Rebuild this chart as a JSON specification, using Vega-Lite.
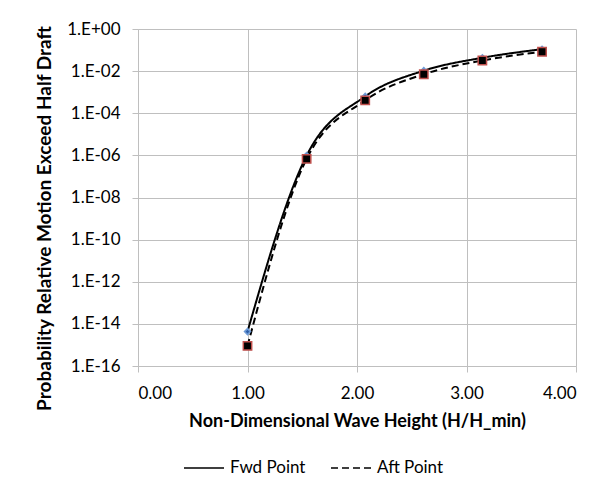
{
  "$schema": "https://vega.github.io/schema/vega-lite/v6.json",
  "width": 438,
  "height": 337,
  "autosize": "none",
  "padding": {"left": 138, "top": 29, "right": 32, "bottom": 127},
  "background": "white",
  "config": {
    "font": "Lato",
    "view": {"stroke": null},
    "axis": {
      "labelFont": "Lato",
      "labelFontSize": 17,
      "labelColor": "#000000",
      "titleFont": "Lato",
      "titleFontSize": 18,
      "titleFontWeight": "bold",
      "titleColor": "#000000",
      "gridColor": "#BFBFBF",
      "gridWidth": 1,
      "domainColor": "#BFBFBF",
      "domainWidth": 1,
      "tickColor": "#BFBFBF",
      "tickSize": 6
    }
  },
  "data": {
    "values": [
      {"h": 1.0, "p": 4.3e-15, "series": "Fwd Point"},
      {"h": 1.54, "p": 9.8e-7, "series": "Fwd Point"},
      {"h": 2.075, "p": 6.3e-4, "series": "Fwd Point"},
      {"h": 2.61, "p": 1.05e-2, "series": "Fwd Point"},
      {"h": 3.145, "p": 4.3e-2, "series": "Fwd Point"},
      {"h": 3.69, "p": 0.11, "series": "Fwd Point"},
      {"h": 1.0, "p": 9e-16, "series": "Aft Point"},
      {"h": 1.54, "p": 6.8e-7, "series": "Aft Point"},
      {"h": 2.075, "p": 4.1e-4, "series": "Aft Point"},
      {"h": 2.61, "p": 7.1e-3, "series": "Aft Point"},
      {"h": 3.145, "p": 3.2e-2, "series": "Aft Point"},
      {"h": 3.69, "p": 8.3e-2, "series": "Aft Point"}
    ]
  },
  "encoding": {
    "x": {
      "field": "h",
      "type": "quantitative",
      "scale": {"domain": [0, 4], "nice": false},
      "axis": {
        "title": "Non-Dimensional Wave Height (H/H_min)",
        "values": [0, 1, 2, 3, 4],
        "format": ".2f",
        "labelPadding": 13,
        "titlePadding": 11
      }
    },
    "y": {
      "field": "p",
      "type": "quantitative",
      "scale": {"type": "log", "domain": [1e-16, 1], "nice": false},
      "axis": {
        "title": "Probability Relative Motion Exceed Half Draft",
        "titleFontSize": 19,
        "titleY": 189,
        "values": [1e-16, 1e-14, 1e-12, 1e-10, 1e-8, 1e-6, 1e-4, 1e-2, 1],
        "labelExpr": "'1.E' + (round(log(datum.value) / LN10) >= 0 ? '+' : '-') + (abs(round(log(datum.value) / LN10)) < 10 ? '0' : '') + abs(round(log(datum.value) / LN10))",
        "labelPadding": 12,
        "titlePadding": 12
      }
    }
  },
  "layer": [
    {
      "mark": {"type": "line", "color": "black", "strokeWidth": 2, "interpolate": "monotone"},
      "encoding": {
        "strokeDash": {
          "field": "series",
          "type": "nominal",
          "scale": {"domain": ["Fwd Point", "Aft Point"], "range": [[1, 0], [7, 4]]},
          "legend": {
            "title": null,
            "orient": "none",
            "legendX": 45,
            "legendY": 418,
            "direction": "horizontal",
            "labelFont": "Lato",
            "labelFontSize": 17,
            "labelColor": "#000000",
            "symbolSize": 1600,
            "columnPadding": 22,
            "labelOffset": 5,
            "encode": {
              "symbols": {
                "shape": {
                  "condition": {"test": "datum.value === 'Fwd Point'", "value": "M-1,0L1,0M0,-0.15L0.15,0L0,0.15L-0.15,0Z"},
                  "value": "M-1,0L-0.68,0M0.62,0L1,0M-0.24,-0.24L0.24,-0.24L0.24,0.24L-0.24,0.24Z"
                },
                "fill": {
                  "condition": {"test": "datum.value === 'Fwd Point'", "value": "#1F3F7A"},
                  "value": "#000000"
                },
                "stroke": {"value": "#000000"},
                "strokeWidth": {"value": 2},
                "opacity": {"value": 1}
              }
            }
          }
        }
      }
    },
    {
      "mark": {"type": "point", "filled": true, "opacity": 1, "strokeWidth": 1.5},
      "encoding": {
        "shape": {
          "condition": {"test": "datum.series === 'Fwd Point'", "value": "diamond"},
          "value": "square"
        },
        "size": {
          "condition": {"test": "datum.series === 'Fwd Point'", "value": 36},
          "value": 70
        },
        "fill": {
          "condition": {"test": "datum.series === 'Fwd Point'", "value": "#2F5FA8"},
          "value": "#000000"
        },
        "stroke": {
          "condition": {"test": "datum.series === 'Fwd Point'", "value": "#6E9BD6"},
          "value": "#C0504D"
        }
      }
    }
  ]
}
